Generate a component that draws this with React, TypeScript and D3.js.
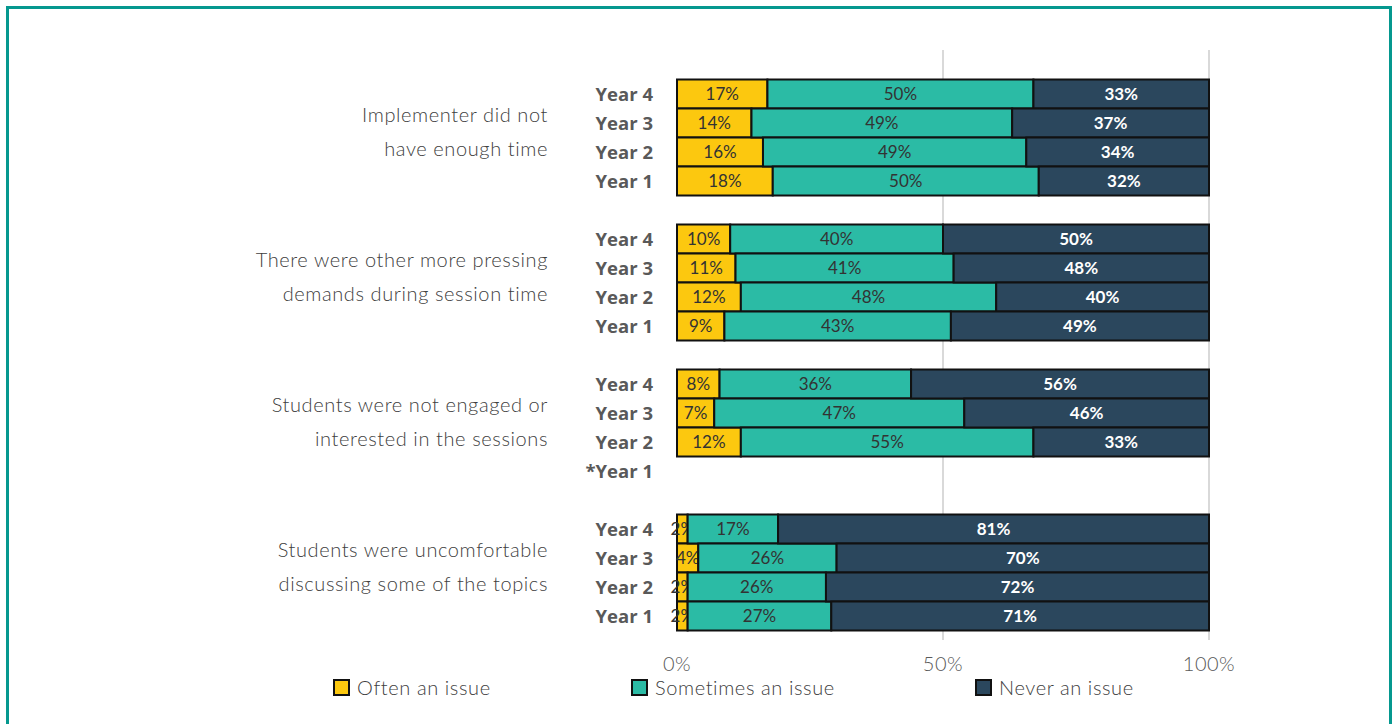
import React from "react";
import * as d3 from "d3";

const categories = [
  ["Implementer did not", "have enough time"],
  ["There were other more pressing", "demands during session time"],
  ["Students were not engaged or", "interested in the sessions"],
  ["Students were uncomfortable", "discussing some of the topics"],
];
const years = ["Year 4", "Year 3", "Year 2", "Year 1"];
const seriesNames = ["Often an issue", "Sometimes an issue", "Never an issue"];
const seriesColors = ["#FCC80F", "#2BBBA5", "#2B475D"];
// values per category, per year (Year 4..Year 1); null = no data
const oftenValues = [
  [17, 14, 16, 18],
  [10, 11, 12, 9],
  [8, 7, 12, null],
  [2, 4, 2, 2],
];
const sometimesValues = [
  [50, 49, 49, 50],
  [40, 41, 48, 43],
  [36, 47, 55, null],
  [17, 26, 26, 27],
];
const neverValues = [
  [33, 37, 34, 32],
  [50, 48, 40, 49],
  [56, 46, 33, null],
  [81, 70, 72, 71],
];
const missingYearLabel = "*Year 1";
const tickValues = [0, 0.5, 1];

export default function App() {
  const W = 1393, H = 724;
  const x0 = 677, x1 = 1209;
  const top = 79.5, rowH = 29;
  const x = d3.scaleLinear().domain([0, 1]).range([x0, x1]);
  const rowKeys: string[] = [];
  categories.forEach((_, ci) => {
    years.forEach((_, yi) => rowKeys.push(`${ci}-${yi}`));
    if (ci < categories.length - 1) rowKeys.push(`gap-${ci}`);
  });
  const y = d3.scaleBand().domain(rowKeys).range([top, top + rowKeys.length * rowH]).padding(0);

  type Row = { key: string; ci: number; yi: number; often: number; sometimes: number; never: number; missing: boolean };
  const rows: Row[] = [];
  categories.forEach((_, ci) => {
    years.forEach((_, yi) => {
      const o = oftenValues[ci][yi];
      rows.push({
        key: `${ci}-${yi}`, ci, yi,
        often: o ?? 0, sometimes: sometimesValues[ci][yi] ?? 0, never: neverValues[ci][yi] ?? 0,
        missing: o === null,
      });
    });
  });
  const keys = ["often", "sometimes", "never"] as const;
  const dataRows = rows.filter((r) => !r.missing);
  const stack = d3.stack<Row>().keys(keys as any).offset(d3.stackOffsetExpand);
  const stacked = stack(dataRows);

  const labelFont = "Lato, 'Open Sans', sans-serif";

  return (
    <svg width={W} height={H} style={{ position: "absolute", left: 0, top: 0, background: "#fff" }}>
      <rect x={7.5} y={7.5} width={1383} height={740} fill="none" stroke="#05988F" strokeWidth={3} />
      {tickValues.slice(1).map((t) => (
        <line key={t} x1={x(t)} x2={x(t)} y1={50} y2={640} stroke="#D9D9D9" strokeWidth={2} />
      ))}
      {stacked.map((s, si) => (
        <g key={s.key}>
          {s.map((d) => {
            const r = d.data;
            const yy = y(r.key)!;
            const xa = x(d[0]), xb = x(d[1]);
            const val = (r as any)[s.key] as number;
            return (
              <g key={r.key}>
                <rect x={xa} y={yy} width={xb - xa} height={y.bandwidth()} fill={seriesColors[si]} stroke="#111" strokeWidth={2} />
                <text
                  x={(xa + xb) / 2}
                  y={yy + y.bandwidth() / 2}
                  dy="0.36em"
                  textAnchor="middle"
                  fontFamily={labelFont}
                  fontSize={17}
                  fontWeight={si === 2 ? 700 : 400}
                  fill={si === 2 ? "#FFFFFF" : "#333333"}
                >
                  {val}%
                </text>
              </g>
            );
          })}
        </g>
      ))}
      {rows.map((r) => (
        <text
          key={r.key}
          x={653}
          y={y(r.key)! + y.bandwidth() / 2}
          dy="0.36em"
          textAnchor="end"
          fontFamily="'Open Sans', sans-serif"
          fontWeight={700}
          fontSize={18.5}
          fill="#595959"
        >
          {r.missing ? missingYearLabel : years[r.yi]}
        </text>
      ))}
      {categories.map((lines, ci) => {
        const c0 = y(`${ci}-0`)!;
        const c3 = y(`${ci}-3`)! + y.bandwidth();
        const mid = (c0 + c3) / 2 - 6;
        return (
          <text key={ci} textAnchor="end" fontFamily={labelFont} fontWeight={300} fontSize={20} letterSpacing={0.6} fill="#404040">
            {lines.map((l, li) => (
              <tspan key={li} x={548} y={mid + (li - 0.5) * 34} dy="0.35em">
                {l}
              </tspan>
            ))}
          </text>
        );
      })}
      {tickValues.map((t) => (
        <text key={t} x={x(t)} y={664} dy="0.35em" textAnchor="middle" fontFamily={labelFont} fontWeight={300} fontSize={20} letterSpacing={0.5} fill="#595959">
          {d3.format(".0%")(t)}
        </text>
      ))}
      {seriesNames.map((n, i) => {
        const lx = [333, 631, 975][i];
        return (
          <g key={n}>
            <rect x={lx + 1} y={680} width={15} height={15} fill={seriesColors[i]} stroke="#111" strokeWidth={2} />
            <text x={lx + 24} y={688} dy="0.35em" fontFamily={labelFont} fontWeight={300} fontSize={20} letterSpacing={0.6} fill="#404040">
              {n}
            </text>
          </g>
        );
      })}
    </svg>
  );
}
